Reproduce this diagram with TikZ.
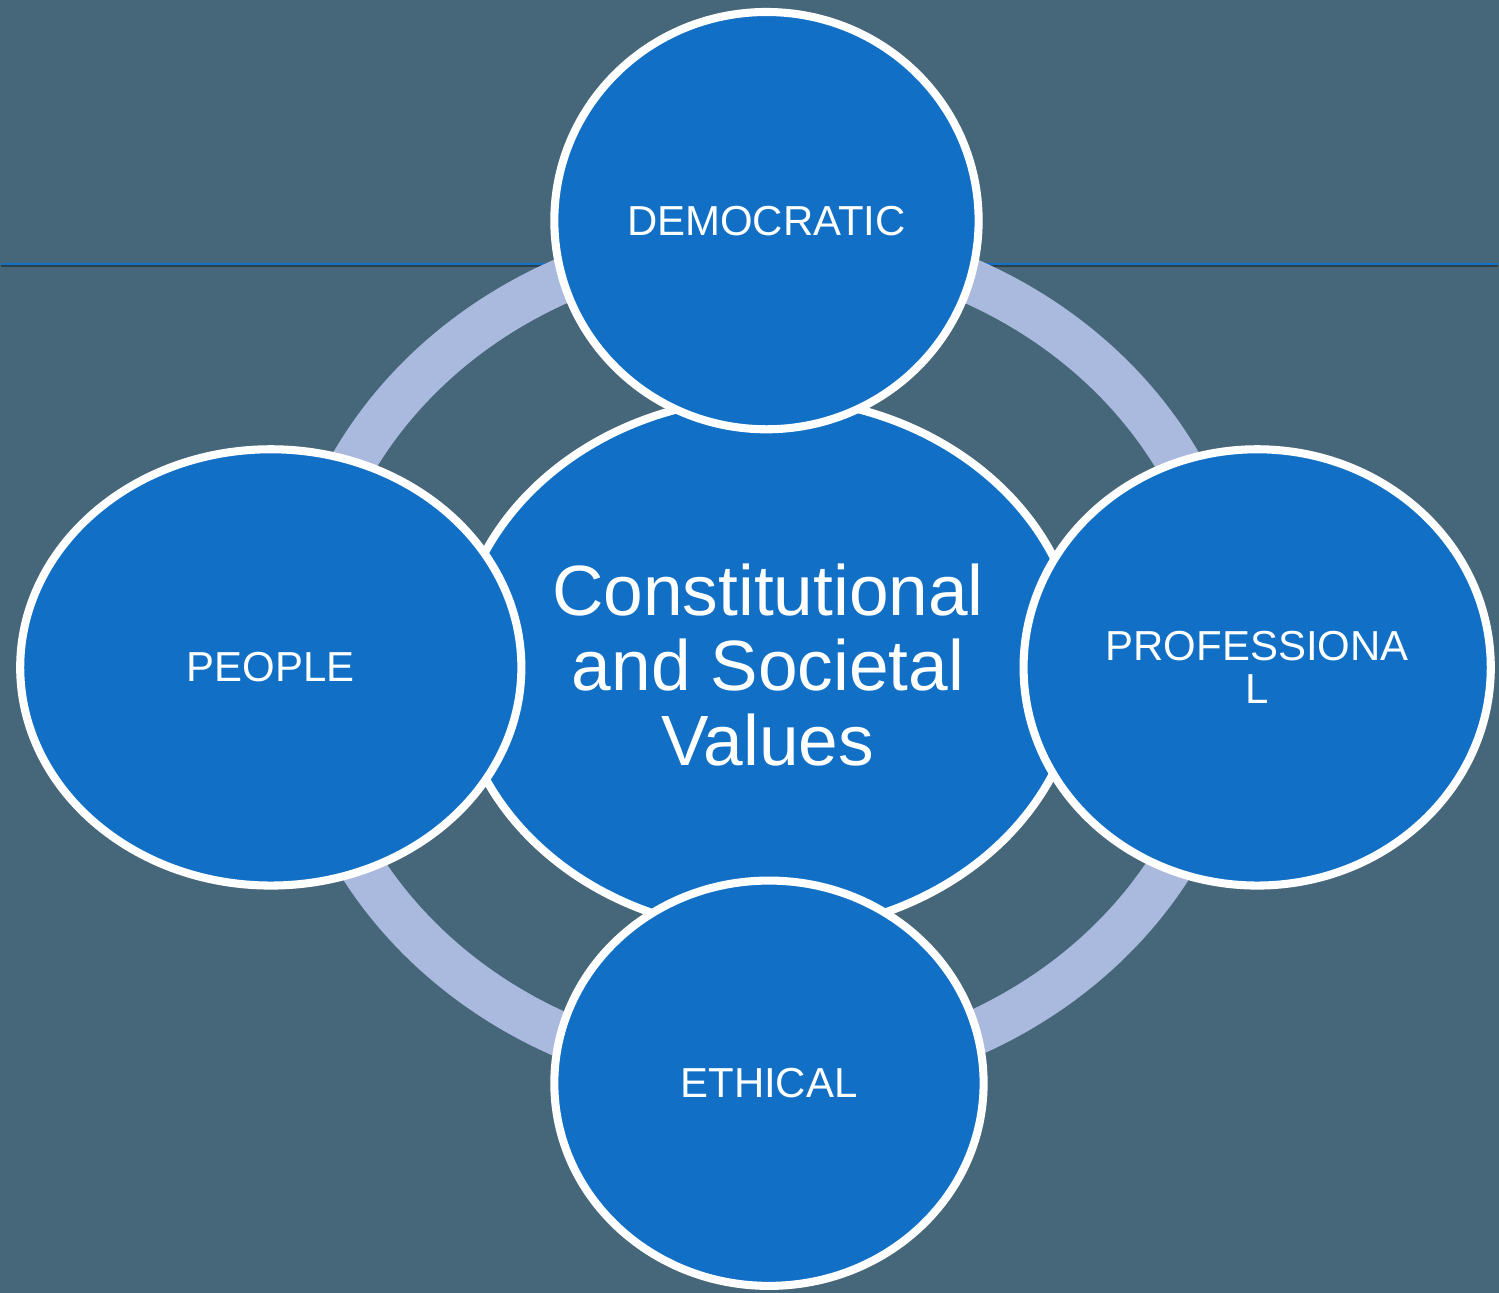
\documentclass[tikz,border=0pt]{standalone}
\usepackage{fontspec}
\setmainfont{Liberation Sans}
\usetikzlibrary{shapes}
\definecolor{slate}{HTML}{46677A}
\definecolor{valblue}{HTML}{1170C6}
\definecolor{ringblue}{HTML}{AAB9DE}
\definecolor{rulesh}{HTML}{2E3F48}

\begin{document}
\begin{tikzpicture}[scale=1.0000]
	\tikzstyle{every node}=[scale=1.0000]
	\tikzstyle{value}=[ellipse, draw=white, line width=2.3pt, fill=valblue, text=white, align=center, inner sep=0pt, font=\fontsize{11.95}{12.2}\selectfont]
	
	%% background and rule
	\fill [slate] (-0.0100,-0.0100) rectangle (15.0000,12.9400);
	\draw [rulesh, line width=0.7pt]  (0.0000,10.2750) -- (14.9900,10.2750);
	\draw [valblue, line width=0.6pt]  (0.0000,10.3000) -- (14.9900,10.3000);
	\useasboundingbox (0.0000,0.0000) rectangle (14.9900,12.9300);
	
	%% ring
	\draw [ringblue, line width=0.45cm]  (7.6600,6.3500) ellipse [x radius=4.6700, y radius=4.2000];
	
	%% values
	\node [value, minimum width=6.2500cm, minimum height=5.3500cm, font=\fontsize{20.3}{21.3}\selectfont] (core) at (7.6800,6.2800) {Constitutional\\and Societal\\Values};
	\node [value, minimum width=4.2500cm, minimum height=4.1800cm] (democratic) at (7.6650,10.7300) {DEMOCRATIC};
	\node [value, minimum width=5.0200cm, minimum height=4.3700cm] (people) at (2.7000,6.2550) {PEOPLE};
	\node [value, minimum width=4.6800cm, minimum height=4.3700cm] (professional) at (12.5800,6.2550) {PROFESSIONA\\L};
	\node [value, minimum width=4.3000cm, minimum height=4.0600cm] (ethical) at (7.6900,2.0900) {ETHICAL};

\end{tikzpicture}
\end{document}
